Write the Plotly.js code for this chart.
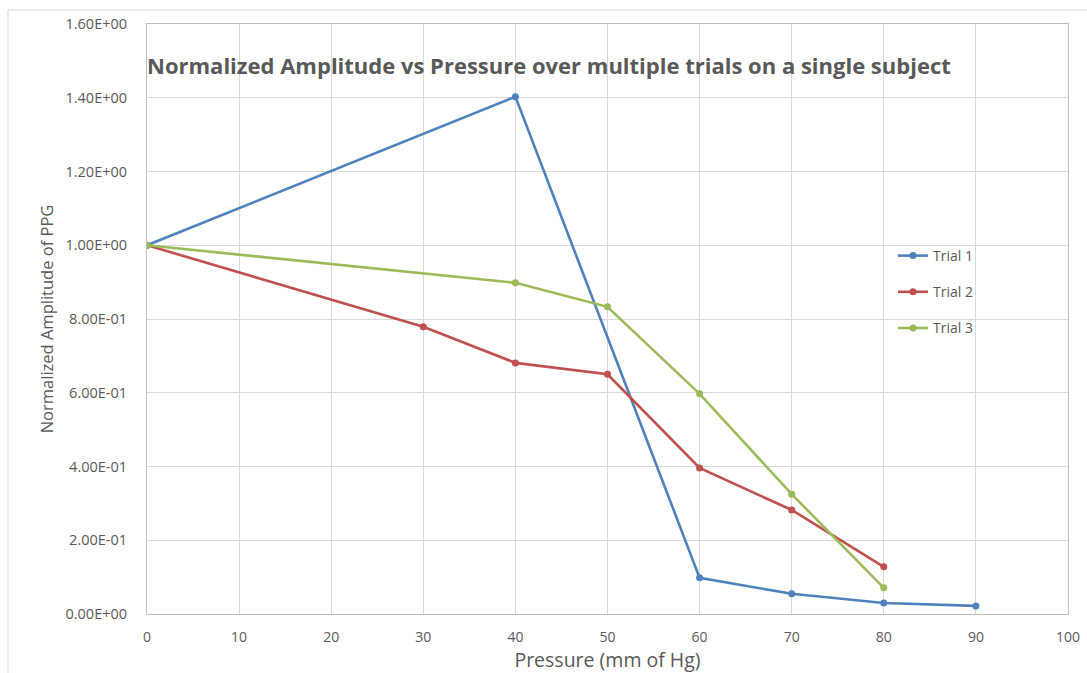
<!DOCTYPE html>
<html>
<head>
<meta charset="utf-8">
<script src="https://cdn.plot.ly/plotly-3.0.1.min.js"></script>
<style>
  html, body { margin: 0; padding: 0; background: #fff; }
  #chart { width: 1087px; height: 673px; }
</style>
</head>
<body>
<div id="chart"></div>
<script>
// Pressure steps (mm of Hg) and normalized PPG amplitudes per trial
const trial1Pressure = [0, 40, 60, 70, 80, 90];
const trial1Amplitude = [1.0, 1.403, 0.098, 0.055, 0.030, 0.022];

const trial2Pressure = [0, 30, 40, 50, 60, 70, 80];
const trial2Amplitude = [1.0, 0.779, 0.681, 0.650, 0.396, 0.282, 0.128];

const trial3Pressure = [0, 40, 50, 60, 70, 80];
const trial3Amplitude = [1.0, 0.898, 0.833, 0.597, 0.325, 0.071];

const seriesNames = ['Trial 1', 'Trial 2', 'Trial 3'];
const yTickValues = [0, 0.2, 0.4, 0.6, 0.8, 1.0, 1.2, 1.4, 1.6];
const xTickValues = [0, 10, 20, 30, 40, 50, 60, 70, 80, 90, 100];

// Spreadsheet-style scientific notation, e.g. 1.40E+00, 2.00E-01
function sciLabel(v) {
  if (v === 0) return '0.00E+00';
  const exp = Math.floor(Math.log10(Math.abs(v)) + 1e-9);
  const mant = v / Math.pow(10, exp);
  const sign = exp < 0 ? '-' : '+';
  const e = String(Math.abs(exp)).padStart(2, '0');
  return mant.toFixed(2) + 'E' + sign + e;
}

const colors = ['#4F81BD', '#C0504D', '#9BBB59'];
const xs = [trial1Pressure, trial2Pressure, trial3Pressure];
const ys = [trial1Amplitude, trial2Amplitude, trial3Amplitude];

const traces = seriesNames.map((name, i) => ({
  type: 'scatter',
  mode: 'lines+markers',
  name: name,
  legendgroup: 'g' + i,
  x: xs[i],
  y: ys[i],
  line: { color: colors[i], width: 2.6 },
  marker: { color: colors[i], size: 7, symbol: 'circle' }
}));

const grid = '#D9D9D9';
const textGray = '#595959';
const font = '"Open Sans", "Noto Sans", sans-serif';

const layout = {
  width: 1087,
  height: 673,
  margin: { l: 147, r: 19, t: 24, b: 59, pad: 0 },
  paper_bgcolor: '#fff',
  plot_bgcolor: '#fff',
  font: { family: font, color: textGray, size: 14 },
  title: {
    text: 'Normalized Amplitude vs Pressure over multiple trials on a single subject',
    font: { family: font, size: 22, color: textGray, weight: 'bold' },
    x: 147 / 1087,
    xanchor: 'left',
    xref: 'container',
    y: 1 - 66 / 673,
    yanchor: 'middle',
    yref: 'container'
  },
  xaxis: {
    range: [0, 100],
    tickvals: xTickValues,
    ticktext: xTickValues.map(String),
    showgrid: true,
    gridcolor: grid,
    gridwidth: 1,
    zeroline: false,
    showline: true,
    linecolor: '#BFBFBF',
    linewidth: 1,
    mirror: true,
    ticks: '',
    ticklabelstandoff: 10,
    tickfont: { size: 14, color: textGray },
    title: { text: 'Pressure (mm of Hg)', font: { size: 19.5, color: textGray }, standoff: 8 }
  },
  yaxis: {
    range: [0, 1.6],
    tickvals: yTickValues,
    ticktext: yTickValues.map(sciLabel),
    showgrid: true,
    gridcolor: grid,
    gridwidth: 1,
    zeroline: false,
    showline: true,
    linecolor: '#BFBFBF',
    linewidth: 1,
    mirror: true,
    ticks: '',
    ticklabelstandoff: 16,
    tickfont: { size: 14.5, color: textGray },
    title: { text: 'Normalized Amplitude of PPG', font: { size: 16.5, color: textGray }, standoff: 7 }
  },
  showlegend: true,
  legend: {
    x: (893 - 147) / 921,
    xanchor: 'left',
    y: 1 - (256 - 24 - 16) / 590,
    yanchor: 'top',
    bgcolor: 'rgba(0,0,0,0)',
    font: { size: 14, color: textGray },
    itemwidth: 30,
    tracegroupgap: 15
  },
  shapes: [
    {
      type: 'rect', xref: 'paper', yref: 'paper',
      x0: (8 - 147) / 921, x1: (1095 - 147) / 921,
      y0: (614 - 690) / 590, y1: (614 - 10) / 590,
      line: { color: '#D9D9D9', width: 1 },
      layer: 'below'
    }
  ]
};

Plotly.newPlot('chart', traces, layout, { displayModeBar: false, staticPlot: true });
</script>
</body>
</html>
